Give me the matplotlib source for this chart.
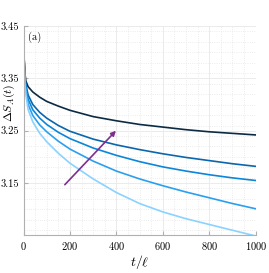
import numpy as np
import matplotlib
matplotlib.use("Agg")
import matplotlib.pyplot as plt
from matplotlib.ticker import MultipleLocator

plt.rcParams['font.family'] = 'serif'
plt.rcParams['font.serif'] = ['cmr10']
plt.rcParams['mathtext.fontset'] = 'cm'
plt.rcParams['axes.formatter.use_mathtext'] = True

# time axis t/l and the five entropy curves (dark -> light)
t = [0, 1, 3, 6, 10, 20, 40, 70, 100, 150, 200, 300, 400, 500, 600, 700, 800, 900, 1000]
s1 = [3.440, 3.415, 3.385, 3.360, 3.345, 3.334, 3.324, 3.314, 3.306, 3.297, 3.289, 3.277, 3.269, 3.262, 3.257, 3.252, 3.248, 3.245, 3.242]
s2 = [3.440, 3.413, 3.383, 3.355, 3.338, 3.318, 3.300, 3.285, 3.274, 3.260, 3.249, 3.234, 3.223, 3.214, 3.206, 3.199, 3.193, 3.187, 3.182]
s3 = [3.440, 3.412, 3.381, 3.352, 3.333, 3.310, 3.290, 3.274, 3.262, 3.247, 3.235, 3.217, 3.203, 3.191, 3.181, 3.173, 3.166, 3.160, 3.155]
s4 = [3.440, 3.410, 3.378, 3.348, 3.328, 3.300, 3.279, 3.261, 3.248, 3.230, 3.215, 3.192, 3.173, 3.158, 3.145, 3.133, 3.122, 3.111, 3.101]
s5 = [3.436, 3.405, 3.372, 3.340, 3.320, 3.290, 3.267, 3.245, 3.229, 3.207, 3.188, 3.158, 3.132, 3.111, 3.095, 3.082, 3.071, 3.060, 3.049]
curves = [s1, s2, s3, s4, s5]
colors = ['#0b2b45', '#0b66ad', '#0c86d8', '#2a9ff0', '#8ad2ff']

# arrow (tail, head) in data coords
arrow_t = [178, 398]
arrow_s = [3.147, 3.250]

fig = plt.figure(figsize=(2.69, 2.73), dpi=100)
ax = fig.add_axes([0.0874, 0.1374, 0.8632, 0.7674])

for s, c in zip(curves, colors):
    ax.plot(t, s, color=c, lw=1.2)

ax.annotate('', xy=(arrow_t[1], arrow_s[1]), xytext=(arrow_t[0], arrow_s[0]),
            arrowprops=dict(arrowstyle='-|>', color='#7e2f8e', lw=1.2, mutation_scale=7,
                            shrinkA=0, shrinkB=0))

ax.set_xlim(0, 1000)
ax.set_ylim(3.05, 3.45)
ax.set_xticks([0, 200, 400, 600, 800, 1000])
ax.set_yticks([3.15, 3.25, 3.35, 3.45])
ax.set_yticklabels(['3.15', '3.25', '3.35', '3.45'])
ax.xaxis.set_minor_locator(MultipleLocator(50))
ax.yaxis.set_minor_locator(MultipleLocator(0.02))
ax.grid(True, which='major', color='#ebebeb', lw=0.7)
ax.grid(True, which='minor', color='#e6e6e6', lw=0.6, linestyle=':')
ax.set_axisbelow(True)

for side in ['top', 'right']:
    ax.spines[side].set_visible(False)
for side in ['left', 'bottom']:
    ax.spines[side].set_color('#b0b0b0')
    ax.spines[side].set_linewidth(0.8)
ax.tick_params(which='major', direction='in', length=3, color='#b0b0b0', labelsize=7.5, pad=3)
ax.tick_params(which='minor', length=0)

ax.set_xlabel(r'$t/\ell$', fontsize=10, labelpad=1)
ax.set_ylabel(r'$\Delta S_A(t)$', fontsize=8.5)
ax.yaxis.set_label_coords(-0.028, 0.635)
ax.text(0.02, 0.975, '(a)', transform=ax.transAxes, fontsize=7.5, va='top', ha='left')

fig.savefig('out.png', dpi=100)
